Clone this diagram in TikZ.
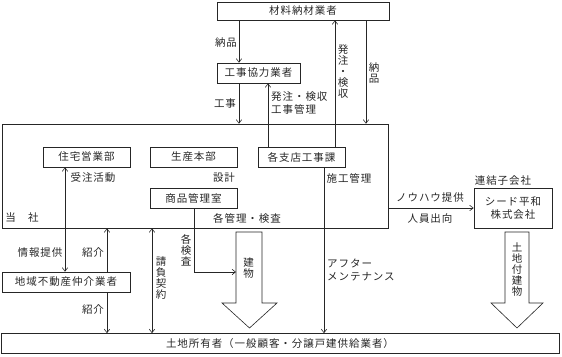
\documentclass[tikz,border=0pt]{standalone}
\usepackage{fontspec}
\setmainfont{Noto Sans CJK JP}[LetterSpace=9]
\usetikzlibrary{arrows.meta}
\tikzset{
  box/.style={draw=black!85, line width=0.7pt, inner sep=0pt, font=\fontsize{10.5}{11}\selectfont, text=black!85},
  lbl/.style={inner sep=0pt, font=\fontsize{10.5}{13.5}\selectfont, text=black!85},
  vlbl/.style={inner sep=0pt, font=\fontsize{10.5}{11}\selectfont, text=black!85, align=center},
  conn/.style={draw=black!85, line width=0.6pt},
  bigarrow/.style={draw=black!85, line width=0.6pt, fill=white},
  >={Straight Barb[length=3.5pt,width=5.5pt]}
}
\begin{document}
\begin{tikzpicture}[x=1pt,y=-1pt]
\useasboundingbox (0,0) rectangle (562,356);
% boxes
\node[box, minimum width=172pt, minimum height=18pt] (top) at (303,11) {材料納材業者};
\node[box, minimum width=83pt, minimum height=20pt] (kyoryoku) at (258.5,73) {工事協力業者};
\node[box, minimum width=386pt, minimum height=104pt] (tousha) at (195,176) {};
\node[box, minimum width=87pt, minimum height=20pt] (jutaku) at (86.5,157) {住宅営業部};
\node[box, minimum width=87pt, minimum height=20pt] (seisan) at (193.5,157) {生産本部};
\node[box, minimum width=87pt, minimum height=20pt] (shiten) at (301.5,157) {各支店工事課};
\node[box, minimum width=87pt, minimum height=20pt] (shohin) at (193.5,198) {商品管理室};
\node[box, minimum width=78pt, minimum height=40pt, align=center, font=\fontsize{10.5}{13}\selectfont] (seed) at (513,208) {シード平和\\株式会社};
\node[box, minimum width=128pt, minimum height=20pt] (chiiki) at (66,282) {地域不動産仲介業者};
\node[box, minimum width=558pt, minimum height=20pt] (tochi) at (280,343.5) {土地所有者（一般顧客・分譲戸建供給業者）};

% helper x positions
\coordinate (xa) at (239,0);
\coordinate (xb) at (268,0);
\coordinate (xc) at (335,0);
\coordinate (xd) at (366,0);
\coordinate (xe) at (65,0);
\coordinate (xf) at (107,0);
\coordinate (xg) at (152,0);
\coordinate (xh) at (194,0);
\coordinate (xi) at (324,0);
\coordinate (yk) at (0,208);
\coordinate (ym) at (0,272);

% big arrows
\draw[bigarrow] (236,232) -- (262,232) -- (262,303) -- (277,303) -- (249.5,328) -- (222,303) -- (236,303) -- cycle;
\draw[bigarrow] (505,232) -- (529,232) -- (529,303) -- (543,303) -- (517,328) -- (491,303) -- (505,303) -- cycle;
\coordinate (tatemonoW) at (236,272);

% connectors
\draw[conn,->] (xa |- top.south) -- (xa |- kyoryoku.north);
\draw[conn,->] (xa |- kyoryoku.south) -- (xa |- tousha.north);
\draw[conn,->] (xb |- shiten.north) -- (xb |- kyoryoku.south);
\draw[conn,->] (xc |- shiten.north) -- (xc |- top.south);
\draw[conn,->] (xd |- top.south) -- (xd |- tousha.north);
\draw[conn,<->] (xe |- jutaku.south) -- (xe |- chiiki.north);
\draw[conn,<-] (xf |- tousha.south) -- (xf |- chiiki.north);
\draw[conn,->] (xf |- chiiki.south) -- (xf |- tochi.north);
\draw[conn,<->] (xg |- tousha.south) -- (xg |- tochi.north);
\draw[conn,->] (xh |- shohin.south) -- (xh |- ym) -- (tatemonoW);
\draw[conn,->] (xi |- shiten.south) -- (xi |- tochi.north);
\draw[conn,->] (yk -| tousha.east) -- (yk -| seed.west);

% labels
\node[lbl] (l1) at (226,43) {納品};
\node[lbl] (l2) at (225,104) {工事};
\node[lbl, anchor=north west, align=left] (l3) at (271,91) {発注・検収\\工事管理};
\node[vlbl] (l4) at (343,72) {発\\注\\・\\検\\収};
\node[vlbl] (l5) at (374,73) {納\\品};
\node[lbl] (l6) at (93,178) {受注活動};
\node[lbl] (l7) at (224,178) {設計};
\node[lbl] (l8) at (349,178) {施工管理};
\node[lbl] (l9) at (247,218) {各管理・検査};
\node[lbl] (l10) at (22,218) {当　社};
\node[lbl] (l11) at (503,181) {連結子会社};
\node[lbl] (l12) at (430,198) {ノウハウ提供};
\node[lbl] (l13) at (430,219) {人員出向};
\node[lbl] (l14) at (40,253) {情報提供};
\node[lbl] (l15) at (93,253) {紹介};
\node[lbl] (l16) at (93,310) {紹介};
\node[vlbl] (l17) at (161,278) {請\\負\\契\\約};
\node[vlbl] (l18) at (186,250) {各\\検\\査};
\node[vlbl] (l19) at (248.5,268) {建\\物};
\node[lbl, anchor=west, align=left] (l20) at (327,270) {アフター\\メンテナンス};
\node[vlbl] (l21) at (517,270) {土\\地\\付\\建\\物};
\end{tikzpicture}
\end{document}
